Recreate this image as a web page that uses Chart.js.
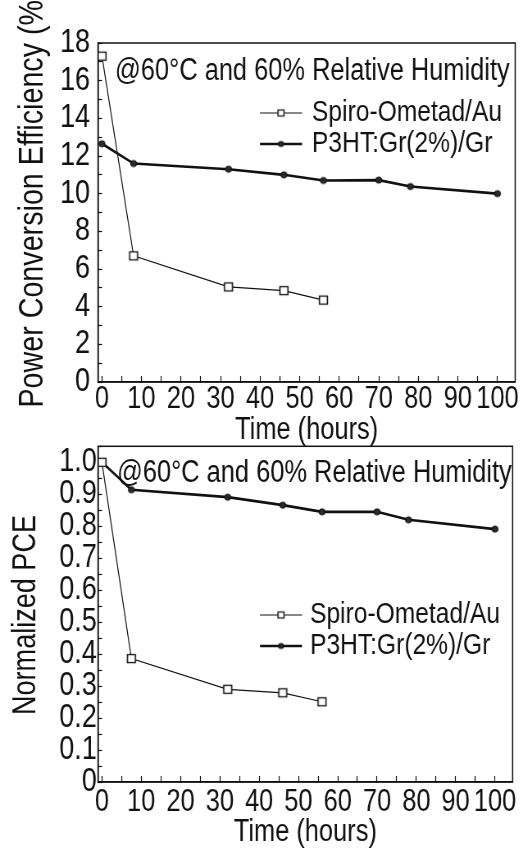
<!DOCTYPE html>
<html>
<head>
<meta charset="utf-8">
<script src="https://cdn.jsdelivr.net/npm/chart.js@4.4.0/dist/chart.umd.min.js"></script>
<style>
  html, body { margin: 0; padding: 0; background: #fff; }
  body { width: 523px; height: 850px; position: relative; overflow: hidden; }
  .panel { position: absolute; left: 0; }
  #panel-pce  { top: 0; }
  #panel-norm { top: 420px; }
</style>
</head>
<body>
<!-- the canvases are drawn wider and squeezed by CSS: gives the narrow (Arial Narrow like) lettering -->
<div class="panel" id="panel-pce"><canvas id="chart-pce" width="638" height="450" style="width:523px;height:450px"></canvas></div>
<div class="panel" id="panel-norm"><canvas id="chart-norm" width="638" height="430" style="width:523px;height:430px"></canvas></div>
<script>
// ---- data ----
const SERIES_NAMES = ["Spiro-Ometad/Au", "P3HT:Gr(2%)/Gr"];
const NOTE = "@60°C and 60% Relative Humidity";

const HOURS_SPIRO = [0, 8, 32, 46, 56];
const HOURS_P3HT  = [0, 8, 32, 46, 56, 70, 78, 100];
const PCE_SPIRO   = [17.3, 6.7, 5.05, 4.85, 4.35];
const PCE_P3HT    = [12.65, 11.6, 11.3, 11.0, 10.7, 10.72, 10.38, 10.0];

const HOURS_SPIRO_NORM = [0, 7.5, 32, 46, 56];
const HOURS_P3HT_NORM  = [0, 7.5, 32, 46, 56, 70, 78, 100];
const NORM_SPIRO  = [1.0, 0.386, 0.29, 0.279, 0.251];
const NORM_P3HT   = [1.0, 0.914, 0.891, 0.866, 0.845, 0.845, 0.82, 0.791];

const X_TICKS  = [0, 5, 10, 15, 20, 25, 30, 35, 40, 45, 50, 55, 60, 65, 70, 75, 80, 85, 90, 95, 100];
const X_LABELS = [0, 10, 20, 30, 40, 50, 60, 70, 80, 90, 100];

const FONT = "'Liberation Sans', Arial, sans-serif";
const INK  = "#111";
const SX   = 523 / 638;          // horizontal squeeze applied by CSS
const sx   = (px) => px / SX;    // screen px -> canvas px (horizontal only)

const pts = (xs, ys) => xs.map((x, i) => ({ x, y: ys[i] }));

/* markers pre-stretched so they come out square/round after the squeeze */
function marker(kind, side, lw) {
  const c = document.createElement("canvas");
  c.width = Math.ceil(sx(side + lw * 2)) + 2;
  c.height = Math.ceil(side + lw * 2) + 2;
  const g = c.getContext("2d");
  g.translate(c.width / 2, c.height / 2);
  g.scale(1 / SX, 1);
  g.lineWidth = lw;
  g.strokeStyle = INK;
  if (kind === "square") {
    g.fillStyle = "#fff";
    g.fillRect(-side / 2, -side / 2, side, side);
    g.strokeRect(-side / 2, -side / 2, side, side);
  } else {
    g.fillStyle = "#2a2a2a";
    g.beginPath();
    g.arc(0, 0, side / 2, 0, Math.PI * 2);
    g.fill();
    g.stroke();
  }
  return c;
}

function spiroSet(xs, ys) {
  return {
    label: SERIES_NAMES[0], data: pts(xs, ys),
    borderColor: INK, borderWidth: 1.2,
    pointStyle: marker("square", 8, 1.3), pointRadius: 4,
    legendMarker: marker("square", 6, 1.2),
  };
}
function p3htSet(xs, ys) {
  return {
    label: SERIES_NAMES[1], data: pts(xs, ys),
    borderColor: INK, borderWidth: 2.6,
    pointStyle: marker("circle", 6, 1), pointRadius: 4,
    legendMarker: marker("circle", 5, 1),
  };
}

/* frame, note, y title and the in-plot legend */
const decor = {
  id: "decor",
  afterDraw(chart, args, o) {
    const { ctx, chartArea: a } = chart;
    ctx.save();
    ctx.strokeStyle = INK;
    ctx.lineWidth = 1.5;
    ctx.strokeRect(a.left, a.top, a.right - a.left, a.bottom - a.top);

    ctx.fillStyle = INK;
    ctx.textAlign = "left";
    ctx.textBaseline = "alphabetic";
    ctx.font = `31px ${FONT}`;
    ctx.fillText(NOTE, sx(o.noteX), o.noteY);

    ctx.save();
    ctx.translate(sx(o.titleX), o.titleY);
    ctx.rotate(-Math.PI / 2);
    ctx.scale(SX, 1 / SX);
    ctx.textAlign = "center";
    ctx.font = `${o.titleSize}px ${FONT}`;
    ctx.fillText(o.yTitle, 0, 0);
    ctx.restore();

    chart.data.datasets.forEach((ds, i) => {
      const y = o.legendY + i * 31;
      const x0 = sx(o.legendX);
      ctx.strokeStyle = ds.borderColor;
      ctx.lineWidth = ds.borderWidth;
      ctx.beginPath();
      ctx.moveTo(x0, y);
      ctx.lineTo(x0 + sx(42), y);
      ctx.stroke();
      Chart.helpers.drawPoint(ctx, { pointStyle: ds.legendMarker, radius: 3, rotation: 0 }, x0 + sx(21), y);
      ctx.fillStyle = INK;
      ctx.font = `30px ${FONT}`;
      ctx.textBaseline = "middle";
      ctx.fillText(ds.label, x0 + sx(o.legendGap), y);
    });
    ctx.restore();
  },
};

function buildChart(canvas, cfg) {
  return new Chart(canvas.getContext("2d"), {
    type: "line",
    data: { datasets: cfg.datasets },
    options: {
      responsive: false, animation: false,
      layout: { padding: { top: cfg.padTop, right: sx(7), left: 0, bottom: 0 } },
      plugins: { legend: { display: false }, tooltip: { enabled: false }, decor: cfg.decor },
      scales: {
        x: {
          type: "linear", min: -1, max: 104.5,
          afterBuildTicks: (s) => { s.ticks = X_TICKS.map((v) => ({ value: v })); },
          afterFit: (s) => { s.height = cfg.xHeight; },
          border: { display: true, color: INK, width: 1.5 },
          grid: { drawOnChartArea: false, drawTicks: true, tickLength: -6, tickColor: INK, tickWidth: 1.2 },
          ticks: {
            autoSkip: false, maxRotation: 0, minRotation: 0,
            padding: cfg.xPad, color: INK, font: { family: FONT, size: 31 },
            callback: (v) => (X_LABELS.includes(v) ? String(v) : ""),
          },
          title: {
            display: true, text: "Time (hours)", color: INK,
            font: { family: FONT, size: 31 }, padding: { top: 0, bottom: cfg.titlePad },
          },
        },
        y: {
          type: "linear", min: 0, max: cfg.yMax, bounds: "data",
          afterFit: (s) => { s.width = sx(98); },
          border: { display: true, color: INK, width: 1.5 },
          grid: { drawOnChartArea: false, drawTicks: true, tickLength: -5, tickColor: INK, tickWidth: 1.2 },
          ticks: {
            stepSize: cfg.yStep, autoSkip: false, padding: cfg.yPad,
            color: INK, font: { family: FONT, size: 33 },
            callback: cfg.yLabel,
          },
        },
      },
    },
    plugins: [decor],
  });
}

buildChart(document.getElementById("chart-pce"), {
  datasets: [spiroSet(HOURS_SPIRO, PCE_SPIRO), p3htSet(HOURS_P3HT, PCE_P3HT)],
  padTop: 43, xHeight: 68, yMax: 18, yStep: 1, yPad: 14.7, xPad: 5, titlePad: 1,
  yLabel: (v) => (v % 2 === 0 ? String(v) : ""),
  decor: { noteX: 115, noteY: 80, titleX: 43, titleY: 199, titleSize: 35,
           yTitle: "Power Conversion Efficiency (%)", legendX: 260, legendY: 113, legendGap: 52 },
});

buildChart(document.getElementById("chart-norm"), {
  datasets: [spiroSet(HOURS_SPIRO_NORM, NORM_SPIRO), p3htSet(HOURS_P3HT_NORM, NORM_P3HT)],
  padTop: 23, xHeight: 68, yMax: 1.05, yStep: 0.05, yPad: 6.5, xPad: 8, titlePad: -1,
  yLabel: (v) => {
    const t = Math.round(v * 100);
    if (t % 10 !== 0) return "";
    return t === 0 ? "0" : v.toFixed(1);
  },
  decor: { noteX: 117, noteY: 62, titleX: 35, titleY: 195, titleSize: 33,
           yTitle: "Normalized PCE", legendX: 260, legendY: 195, legendGap: 50 },
});
</script>
</body>
</html>
